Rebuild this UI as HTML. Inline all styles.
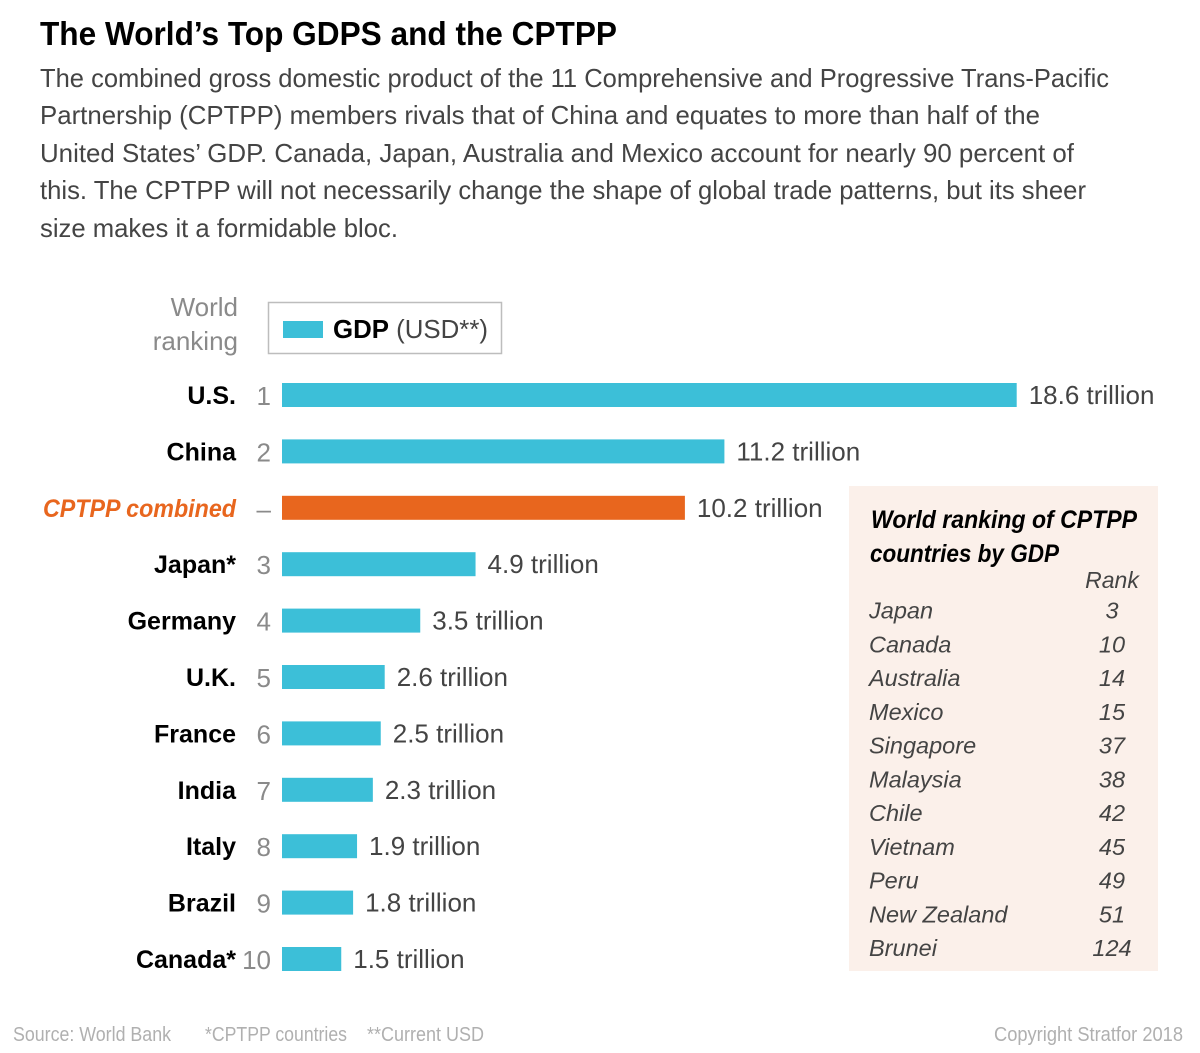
<!DOCTYPE html>
<html lang="en">
<head>
<meta charset="utf-8">
<title>The World's Top GDPS and the CPTPP</title>
<style>
html,body{margin:0;padding:0;background:#fff;}
svg{display:block;font-family:"Liberation Sans",sans-serif;}
</style>
</head>
<body>
<svg id="chart" width="1200" height="1053" viewBox="0 0 1200 1053" xmlns="http://www.w3.org/2000/svg">
  <text x="40" y="45" font-size="33" font-weight="700" fill="#000" textLength="577" lengthAdjust="spacingAndGlyphs">The World’s Top GDPS and the CPTPP</text>
  <g font-size="26" fill="#444">
    <text x="40" y="87" textLength="1069" lengthAdjust="spacingAndGlyphs">The combined gross domestic product of the 11 Comprehensive and Progressive Trans-Pacific</text>
    <text x="40" y="124" textLength="1000" lengthAdjust="spacingAndGlyphs">Partnership (CPTPP) members rivals that of China and equates to more than half of the</text>
    <text x="40" y="162" textLength="1034" lengthAdjust="spacingAndGlyphs">United States’ GDP. Canada, Japan, Australia and Mexico account for nearly 90 percent of</text>
    <text x="40" y="199" textLength="1046" lengthAdjust="spacingAndGlyphs">this. The CPTPP will not necessarily change the shape of global trade patterns, but its sheer</text>
    <text x="40" y="237" textLength="358" lengthAdjust="spacingAndGlyphs">size makes it a formidable bloc.</text>
  </g>

  <g font-size="26" fill="#8a8a8a" text-anchor="end">
    <text x="238" y="316">World</text>
    <text x="238" y="350">ranking</text>
  </g>

  <g>
    <rect x="268.5" y="302.5" width="233" height="51" fill="#fff" stroke="#bdbdbd" stroke-width="1.5"/>
    <rect x="283" y="321" width="40" height="17" fill="#3cbfd8"/>
    <text x="333" y="338" font-size="26" fill="#444" textLength="155" lengthAdjust="spacingAndGlyphs"><tspan font-weight="700" fill="#000">GDP</tspan> (USD**)</text>
  </g>

  <g id="bars"></g>

  <rect x="849" y="486" width="309" height="485" fill="#fbf0ea"/>
  <g font-size="25" font-weight="700" font-style="italic" fill="#000">
    <text x="871" y="528" textLength="266" lengthAdjust="spacingAndGlyphs">World ranking of CPTPP</text>
    <text x="870" y="562" textLength="189" lengthAdjust="spacingAndGlyphs">countries by GDP</text>
  </g>
  <text x="1112" y="588" font-size="23" font-style="italic" fill="#444" text-anchor="middle">Rank</text>
  <g id="table" font-size="23.5" font-style="italic" fill="#444"></g>

  <g font-size="20" fill="#b0b0b0">
    <text x="13" y="1041" textLength="158" lengthAdjust="spacingAndGlyphs">Source: World Bank</text>
    <text x="205" y="1041" textLength="142" lengthAdjust="spacingAndGlyphs">*CPTPP countries</text>
    <text x="367" y="1041" textLength="117" lengthAdjust="spacingAndGlyphs">**Current USD</text>
    <text x="994" y="1041" textLength="189" lengthAdjust="spacingAndGlyphs">Copyright Stratfor 2018</text>
  </g>
</svg>
<script>
const categories = ["U.S.", "China", "CPTPP combined", "Japan*", "Germany", "U.K.", "France", "India", "Italy", "Brazil", "Canada*"];
const ranks = ["1", "2", "–", "3", "4", "5", "6", "7", "8", "9", "10"];
const gdpTrillions = [18.6, 11.2, 10.2, 4.9, 3.5, 2.6, 2.5, 2.3, 1.9, 1.8, 1.5];
const highlightCategory = "CPTPP combined";
const memberNames = ["Japan", "Canada", "Australia", "Mexico", "Singapore", "Malaysia", "Chile", "Vietnam", "Peru", "New Zealand", "Brunei"];
const memberRanks = [3, 10, 14, 15, 37, 38, 42, 45, 49, 51, 124];

const SVG_NS = "http://www.w3.org/2000/svg";
const xScale = v => 39.5 * v;
const rowY = i => 395 + 56.4 * i;
const tableY = i => 618.6 + 33.75 * i;

function make(tag, attrs, text) {
  const el = document.createElementNS(SVG_NS, tag);
  for (const k in attrs) el.setAttribute(k, attrs[k]);
  if (text !== undefined) el.textContent = text;
  return el;
}

const barsGroup = document.getElementById("bars");
categories.forEach((name, i) => {
  const cy = rowY(i);
  const hot = name === highlightCategory;
  const slug = name.toLowerCase().replace(/[^a-z0-9]+/g, "-").replace(/-$/, "");

  const label = make("text", {
    x: 236, y: cy + 9, "font-size": 25, "font-weight": 700,
    "font-style": hot ? "italic" : "normal",
    fill: hot ? "#e8661e" : "#000", "text-anchor": "end"
  }, name);
  if (hot) {
    label.setAttribute("textLength", "193");
    label.setAttribute("lengthAdjust", "spacingAndGlyphs");
  }
  
  
  barsGroup.appendChild(label);

  const rank = make("text", {
    x: 271, y: cy + 10, "font-size": 26, fill: "#8a8a8a", "text-anchor": "end"
  }, ranks[i]);
  
  
  barsGroup.appendChild(rank);

  const w = xScale(gdpTrillions[i]);
  const bar = make("rect", {
    x: 282, y: cy - 12, width: w, height: 24, fill: hot ? "#e8661e" : "#3cbfd8"
  });
  
  
  barsGroup.appendChild(bar);

  const value = make("text", {
    x: 282 + w + 12, y: cy + 9, "font-size": 26, fill: "#444"
  }, gdpTrillions[i] + " trillion");
  
  
  barsGroup.appendChild(value);
});

const tableGroup = document.getElementById("table");
memberNames.forEach((name, i) => {
  const y = tableY(i);
  const nameText = make("text", { x: 869, y: y }, name);
  
  
  tableGroup.appendChild(nameText);

  const rankText = make("text", { x: 1112, y: y, "text-anchor": "middle" }, memberRanks[i]);
  
  
  tableGroup.appendChild(rankText);
});
</script>
</body>
</html>
